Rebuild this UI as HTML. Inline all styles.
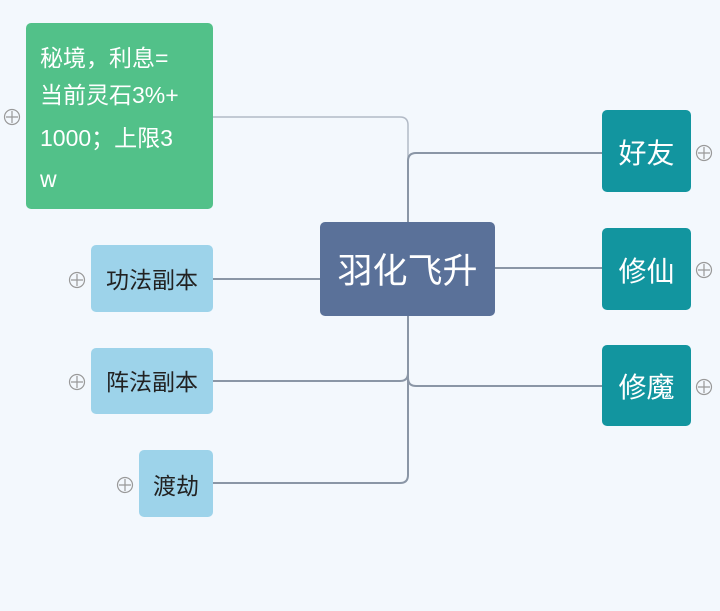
<!DOCTYPE html>
<html><head><meta charset="utf-8"><style>
html,body{margin:0;padding:0;width:720px;height:611px;background:#f3f8fd;overflow:hidden}
svg{display:block}
text{font-family:"Liberation Sans","Noto Sans CJK SC",sans-serif}
</style></head><body>
<svg width="720" height="611" viewBox="0 0 720 611" xmlns="http://www.w3.org/2000/svg">
<rect width="720" height="611" fill="#f3f8fd"/>
<g fill="none" stroke-width="2" stroke="#8a96a6">
<path d="M213 117 H400 Q408 117 408 125 V222" stroke="#b2bac6" stroke-width="1.5"/>
<path d="M408 222 V161 Q408 153 416 153 H602"/>
<path d="M495 268 H602"/>
<path d="M408 316 V475 Q408 483 400 483 H213"/>
<path d="M213 279 H320"/>
<path d="M213 381 H400 Q408 381 408 373"/>
<path d="M408 378 Q408 386 416 386 H602"/>
</g>
<rect x="26" y="23" width="187" height="186" rx="5" fill="#52c189"/>
<g fill="#fff" font-size="23">
<text x="40" y="66">秘境，利息=</text>
<text x="40" y="103">当前灵石3%+</text>
<text x="40" y="146">1000；上限3</text>
<text x="40" y="187">w</text>
</g>
<rect x="320" y="222" width="175" height="94" rx="5" fill="#5a7199"/>
<text x="407.5" y="283" font-size="35" fill="#fff" text-anchor="middle">羽化飞升</text>
<g fill="#12959f">
<rect x="602" y="110" width="89" height="82" rx="5"/>
<rect x="602" y="228" width="89" height="82" rx="5"/>
<rect x="602" y="345" width="89" height="81" rx="5"/>
</g>
<g fill="#fff" font-size="28" text-anchor="middle">
<text x="646.5" y="163">好友</text>
<text x="646.5" y="281">修仙</text>
<text x="646.5" y="397">修魔</text>
</g>
<g fill="#9dd3ea">
<rect x="91" y="245" width="122" height="67" rx="5"/>
<rect x="91" y="348" width="122" height="66" rx="5"/>
<rect x="139" y="450" width="74" height="67" rx="5"/>
</g>
<g fill="#222" font-size="23" text-anchor="middle">
<text x="152" y="288">功法副本</text>
<text x="152" y="390">阵法副本</text>
<text x="176" y="494">渡劫</text>
</g>
<g fill="none" stroke="#999" stroke-width="1.2">
<circle cx="12" cy="117" r="7.5"/><path d="M6 117H18M12 111V123"/>
<circle cx="77" cy="280" r="7.5"/><path d="M71 280H83M77 274V286"/>
<circle cx="77" cy="382" r="7.5"/><path d="M71 382H83M77 376V388"/>
<circle cx="125" cy="485" r="7.5"/><path d="M119 485H131M125 479V491"/>
<circle cx="704" cy="153" r="7.5"/><path d="M698 153H710M704 147V159"/>
<circle cx="704" cy="270" r="7.5"/><path d="M698 270H710M704 264V276"/>
<circle cx="704" cy="387" r="7.5"/><path d="M698 387H710M704 381V393"/>
</g>
</svg>
</body></html>
